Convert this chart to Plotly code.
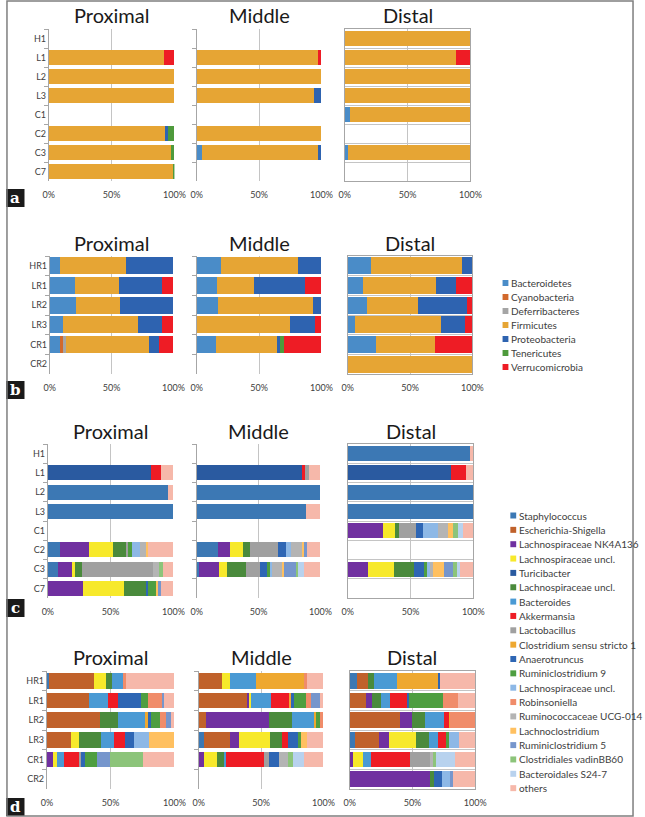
import plotly.graph_objects as go

W, H = 645, 817

# ---------------- categories ----------------
CAT_A = ["H1", "L1", "L2", "L3", "C1", "C2", "C3", "C7"]
CAT_B = ["HR1", "LR1", "LR2", "LR3", "CR1", "CR2"]
CAT_C = CAT_A
CAT_D = CAT_B

# ---------------- phylum series (panels a, b) ----------------
PHYLA_KEYS = ["Bacteroidetes", "Cyanobacteria", "Deferribacteres", "Firmicutes",
              "Proteobacteria", "Tenericutes", "Verrucomicrobia"]
PHYLA_NAMES = PHYLA_KEYS
PHYLA_COLORS = ["#4A8CC8", "#D2692C", "#A5A5A5", "#E6A534", "#2E63B0", "#4E9A3C", "#EE1C25"]

A_PROX = {
    "Firmicutes":      [0, 91.4, 100, 100, 0, 92.7, 97.4, 99],
    "Proteobacteria":  [0, 0, 0, 0, 0, 2.1, 0, 0],
    "Tenericutes":     [0, 0, 0, 0, 0, 5.2, 2.6, 1],
    "Verrucomicrobia": [0, 8.6, 0, 0, 0, 0, 0, 0],
}
A_MID = {
    "Bacteroidetes":   [0, 0, 0, 0, 0, 0, 4.2, 0],
    "Firmicutes":      [0, 97.5, 100, 94.3, 0, 100, 93.4, 0],
    "Proteobacteria":  [0, 0, 0, 5.7, 0, 0, 2.4, 0],
    "Verrucomicrobia": [0, 2.5, 0, 0, 0, 0, 0, 0],
}
A_DIST = {
    "Bacteroidetes":   [0, 0, 0, 0, 4.4, 0, 2.6, 0],
    "Firmicutes":      [100, 88.3, 100, 100, 95.6, 0, 97.4, 0],
    "Verrucomicrobia": [0, 11.7, 0, 0, 0, 0, 0, 0],
}
B_PROX = {
    "Bacteroidetes":   [8.6, 20, 21.5, 11, 8.6, 0],
    "Cyanobacteria":   [0, 0, 0, 0, 1.8, 0],
    "Deferribacteres": [0, 0, 0, 0, 2.6, 0],
    "Firmicutes":      [53.4, 36, 35.5, 60.4, 67, 0],
    "Proteobacteria":  [38, 35, 43, 19.6, 8, 0],
    "Verrucomicrobia": [0, 9, 0, 9, 12, 0],
}
B_MID = {
    "Bacteroidetes":   [19.5, 16, 17, 0, 15, 0],
    "Firmicutes":      [61.5, 30, 76, 75, 49, 0],
    "Proteobacteria":  [19, 40.5, 7, 20, 2.6, 0],
    "Tenericutes":     [0, 0, 0, 0, 3.4, 0],
    "Verrucomicrobia": [0, 13.5, 0, 5, 30, 0],
}
B_DIST = {
    "Bacteroidetes":   [19, 12, 15.6, 6, 22.6, 0],
    "Firmicutes":      [73, 59, 40.4, 69, 47.4, 100],
    "Proteobacteria":  [8, 16, 40, 19, 0, 0],
    "Verrucomicrobia": [0, 13, 4, 6, 30, 0],
}

# ---------------- genus series (panels c, d) ----------------
GENUS_KEYS = ["Staph", "EscSh", "NK", "LachY", "Turici", "LachG", "Bactd", "Akker", "Lacto",
              "CloSS1", "Anaero", "Rum9", "LachB", "Robin", "UCG", "Lachnoc", "Rum5", "vadin",
              "S24", "others"]
GENUS_NAMES = ["Staphylococcus", "Escherichia-Shigella", "Lachnospiraceae NK4A136",
               "Lachnospiraceae uncl.", "Turicibacter", "Lachnospiraceae uncl.", "Bacteroides",
               "Akkermansia", "Lactobacillus", "Clostridium sensu stricto 1", "Anaerotruncus",
               "Ruminiclostridium 9", "Lachnospiraceae uncl.", "Robinsoniella",
               "Ruminococcaceae UCG-014", "Lachnoclostridium", "Ruminiclostridium 5",
               "Clostridiales vadinBB60", "Bacteroidales S24-7", "others"]
GENUS_COLORS = ["#3C78B4", "#C0612B", "#7030A0", "#F7E92B", "#2A5AA0", "#4A8A3C", "#4A9AD4",
                "#EE1C25", "#A0A0A0", "#EEA830", "#2E66B4", "#4E9E40", "#8DB8E6", "#F08C6A",
                "#B4B4B4", "#FFC060", "#7696CC", "#8CC47A", "#B8D2EE", "#F6B8AA"]

C_PROX = {
    "Staph":   [0, 0, 95.6, 100, 0, 10, 8, 0],
    "NK":      [0, 0, 0, 0, 0, 23, 11, 27.6],
    "LachY":   [0, 0, 0, 0, 0, 19, 3, 33.4],
    "Turici":  [0, 82, 0, 0, 0, 0, 0, 0],
    "LachG":   [0, 0, 0, 0, 0, 10, 5, 17],
    "Akker":   [0, 8, 0, 0, 0, 0, 0, 0],
    "Lacto":   [0, 0, 0, 0, 0, 2, 57, 0],
    "Anaero":  [0, 0, 0, 0, 0, 0, 0, 1.6],
    "Rum9":    [0, 0, 0, 0, 0, 2.7, 0, 7],
    "LachB":   [0, 0, 0, 0, 0, 6.9, 0, 0],
    "UCG":     [0, 0, 0, 0, 0, 4.4, 4.6, 0],
    "Lachnoc": [0, 0, 0, 0, 0, 1.6, 0, 1.4],
    "Rum5":    [0, 0, 0, 0, 0, 0, 0, 2],
    "vadin":   [0, 0, 0, 0, 0, 0, 3.4, 0],
    "others":  [0, 10, 4.4, 0, 0, 20.4, 8, 10],
}
C_MID = {
    "Staph":   [0, 0, 100, 88, 0, 16.8, 2, 0],
    "NK":      [0, 0, 0, 0, 0, 10.2, 15.8, 0],
    "LachY":   [0, 0, 0, 0, 0, 10.4, 6.2, 0],
    "Turici":  [0, 85, 0, 0, 0, 0, 0, 0],
    "LachG":   [0, 0, 0, 0, 0, 5.6, 15.8, 0],
    "Akker":   [0, 2.4, 0, 0, 0, 0, 0, 0],
    "Lacto":   [0, 3.4, 0, 0, 0, 22.4, 11, 0],
    "Anaero":  [0, 0, 0, 0, 0, 6.6, 6.2, 0],
    "Rum9":    [0, 0, 0, 0, 0, 0, 2.4, 0],
    "LachB":   [0, 0, 0, 0, 0, 4, 1.6, 0],
    "UCG":     [0, 0, 0, 0, 0, 9.6, 7.6, 0],
    "Lachnoc": [0, 0, 0, 0, 0, 1.4, 1.8, 0],
    "Rum5":    [0, 0, 0, 0, 0, 2, 9.4, 0],
    "vadin":   [0, 0, 0, 0, 0, 0, 2.2, 0],
    "S24":     [0, 0, 0, 0, 0, 0, 4.4, 0],
    "others":  [0, 9.2, 0, 12, 0, 11, 13.6, 0],
}
C_DIST = {
    "Staph":   [97, 0, 100, 100, 0, 0, 0, 0],
    "NK":      [0, 0, 0, 0, 28.4, 0, 16, 0],
    "LachY":   [0, 0, 0, 0, 9.6, 0, 20.7, 0],
    "Turici":  [0, 82.4, 0, 0, 0, 0, 0, 0],
    "LachG":   [0, 0, 0, 0, 2.6, 0, 15.8, 0],
    "Akker":   [0, 11.6, 0, 0, 0, 0, 0, 0],
    "Lacto":   [0, 0, 0, 0, 13.4, 0, 0, 0],
    "Anaero":  [0, 0, 0, 0, 6, 0, 8, 0],
    "Rum9":    [0, 0, 0, 0, 0, 0, 2.5, 0],
    "LachB":   [0, 0, 0, 0, 12, 0, 2.6, 0],
    "UCG":     [0, 0, 0, 0, 8, 0, 2.4, 0],
    "Lachnoc": [0, 0, 0, 0, 4, 0, 8.7, 0],
    "Rum5":    [0, 0, 0, 0, 0, 0, 7.3, 0],
    "vadin":   [0, 0, 0, 0, 4, 0, 2.6, 0],
    "S24":     [0, 0, 0, 0, 4, 0, 2.4, 0],
    "others":  [3, 6, 0, 0, 8, 0, 11, 0],
}
D_PROX = {
    "Staph":   [2, 0, 0, 0, 0, 0],
    "EscSh":   [34.9, 33, 42, 19, 0, 0],
    "NK":      [0, 0, 0, 0, 5, 0],
    "LachY":   [9.7, 0, 0, 6.4, 2.6, 0],
    "LachG":   [4.3, 0, 13.5, 17.3, 0, 0],
    "Bactd":   [8.9, 15, 22.1, 10.3, 5.9, 0],
    "Akker":   [0, 8, 0, 8, 11.5, 0],
    "Lacto":   [0, 0, 0, 0, 1.7, 0],
    "CloSS1":  [0, 0, 1.4, 0, 0, 0],
    "Anaero":  [0, 18, 2.7, 7, 3.3, 0],
    "Rum9":    [0, 5.6, 6.8, 0, 9, 0],
    "LachB":   [0, 0, 0, 12.4, 0, 0],
    "Robin":   [2.5, 10.4, 4.5, 0, 0, 0],
    "Lachnoc": [0, 0, 0, 19.6, 0, 0],
    "Rum5":    [0, 2, 4.5, 0, 10.6, 0],
    "vadin":   [0, 0, 0, 0, 25.4, 0],
    "others":  [37.7, 8, 2.5, 0, 25, 0],
}
D_MID = {
    "Staph":   [0, 0, 0, 4.4, 0, 0],
    "EscSh":   [18.75, 38.8, 5.7, 20.3, 0, 0],
    "NK":      [0, 1.8, 50.8, 7.3, 4.4, 0],
    "LachY":   [6.55, 1.1, 0, 25, 10.4, 0],
    "LachG":   [0, 0, 18.5, 10, 5.2, 0],
    "Bactd":   [20.3, 16.1, 17.4, 0, 2, 0],
    "Akker":   [0, 14.2, 0, 4.6, 30.6, 0],
    "Lacto":   [0, 0, 0, 0, 3.9, 0],
    "CloSS1":  [39.4, 1.7, 1.9, 0, 0, 0],
    "Anaero":  [0, 2.9, 0, 7.8, 7.8, 0],
    "Rum9":    [0, 9.1, 3.1, 2.6, 0, 0],
    "Robin":   [1.5, 4.7, 2.6, 0, 0, 0],
    "UCG":     [0, 0, 0, 0, 7.3, 0],
    "Lachnoc": [0, 0, 0, 5, 0, 0],
    "Rum5":    [0, 7.2, 0, 0, 0, 0],
    "vadin":   [0, 0, 0, 0, 3.7, 0],
    "S24":     [0, 0, 0, 0, 9.3, 0],
    "others":  [13.5, 2.4, 0, 13, 15.4, 0],
}
D_DIST = {
    "Staph":   [5.7, 0, 0, 4.4, 0, 0],
    "EscSh":   [9, 12.9, 39.8, 18.6, 0, 0],
    "NK":      [0, 5.1, 9.6, 8.6, 2.6, 64.3],
    "LachY":   [0, 0, 0, 21.4, 8.2, 0],
    "LachG":   [4.6, 7, 10.6, 10.5, 0, 3.1],
    "Bactd":   [18.5, 7, 15, 6.9, 5.9, 0],
    "Akker":   [0, 13.5, 4.4, 5.9, 31.3, 0],
    "Lacto":   [0, 0, 0, 0, 16.3, 0],
    "CloSS1":  [32.2, 0, 0.8, 0, 0, 0],
    "Anaero":  [2, 1.8, 0, 0, 0, 6.4],
    "Rum9":    [0, 27.3, 0, 2.7, 0, 0],
    "LachB":   [0, 0, 0, 8, 0, 5.9],
    "Robin":   [0, 11.5, 19.8, 0, 0, 0],
    "UCG":     [0, 0, 0, 0, 2.3, 0],
    "Rum5":    [0, 0, 0, 0, 0, 2.6],
    "vadin":   [0, 0, 0, 0, 2.4, 0],
    "S24":     [0, 0, 0, 0, 14.5, 0],
    "others":  [28, 13.9, 0, 13, 16.5, 17.7],
}

X_TICKS = [0, 50, 100]
X_TICKTEXT = ["0%", "50%", "100%"]
COLUMN_TITLES = ["Proximal", "Middle", "Distal"]
PANEL_LETTERS = ["a", "b", "c", "d"]

# ---------------- layout geometry (pixels) ----------------
def fx(px):
    return px / W

def fy(py):
    return 1 - py / H

ROWS = [
    # data per column, categories, keys, names, colors, y-domain px, x-domains px, bar width, title y
    dict(data=[A_PROX, A_MID, A_DIST], cats=CAT_A, keys=PHYLA_KEYS, names=PHYLA_NAMES,
         colors=PHYLA_COLORS, y=(29, 181), xs=[(44, 173), (196, 324), (348, 477)], bw=0.8, ty=15,
         letter_box=(189, 207)),
    dict(data=[B_PROX, B_MID, B_DIST], cats=CAT_B, keys=PHYLA_KEYS, names=PHYLA_NAMES,
         colors=PHYLA_COLORS, y=(256, 374), xs=[(45, 172), (196, 324), (351, 479)], bw=0.86, ty=243,
         letter_box=(381, 399)),
    dict(data=[C_PROX, C_MID, C_DIST], cats=CAT_C, keys=GENUS_KEYS, names=GENUS_NAMES,
         colors=GENUS_COLORS, y=(444, 598), xs=[(43, 172), (196, 323), (351, 480)], bw=0.77, ty=431,
         letter_box=(599, 617)),
    dict(data=[D_PROX, D_MID, D_DIST], cats=CAT_D, keys=GENUS_KEYS, names=GENUS_NAMES,
         colors=GENUS_COLORS, y=(671, 789), xs=[(42, 173), (198, 326), (353, 482)], bw=0.8, ty=657,
         letter_box=(798, 816)),
]

fig = go.Figure()
layout = dict(width=W, height=H, margin=dict(l=0, r=0, t=0, b=0), paper_bgcolor="white",
              plot_bgcolor="white", barmode="stack", showlegend=False)
annotations = []
shapes = []

TICK_FONT = dict(family="Lato, 'DejaVu Sans', sans-serif", size=9, color="#404040")
AXIS_GRAY = "#A6A6A6"
GRID_GRAY = "#C4C4C4"

idx = 0
for r, row in enumerate(ROWS):
    for c in range(3):
        idx += 1
        xa = "x" if idx == 1 else f"x{idx}"
        ya = "y" if idx == 1 else f"y{idx}"
        data = row["data"][c]
        for key, name, color in zip(row["keys"], row["names"], row["colors"]):
            if key in data:
                fig.add_trace(go.Bar(
                    orientation="h", y=row["cats"], x=data[key], name=name,
                    marker=dict(color=color, line=dict(width=0)), width=row["bw"],
                    xaxis=xa, yaxis=ya, hovertemplate=name + ": %{x}%<extra></extra>"))
        x0, x1 = row["xs"][c]
        y0, y1 = row["y"]
        distal = (c == 2)
        layout["xaxis" if idx == 1 else f"xaxis{idx}"] = dict(
            domain=[fx(x0), fx(x1)], range=[0, 100], anchor=ya,
            tickmode="array", tickvals=X_TICKS, ticktext=X_TICKTEXT,
            ticks="outside", ticklen=5, tickcolor="rgba(0,0,0,0)",
            showgrid=True, gridcolor=GRID_GRAY, gridwidth=1, zeroline=False,
            showline=distal, mirror=distal, linecolor=AXIS_GRAY, tickfont=TICK_FONT,
            fixedrange=True)
        layout["yaxis" if idx == 1 else f"yaxis{idx}"] = dict(
            domain=[fy(y1), fy(y0)], anchor=xa, type="category",
            categoryorder="array", categoryarray=row["cats"], autorange="reversed",
            tickson="boundaries", ticks="" if distal else "outside", ticklen=4,
            tickcolor=AXIS_GRAY, showticklabels=(c == 0), tickfont=TICK_FONT,
            showline=True, mirror=distal, linecolor=AXIS_GRAY,
            showgrid=distal, gridcolor=GRID_GRAY, zeroline=False, fixedrange=True)
        annotations.append(dict(
            x=fx((x0 + x1) / 2), y=fy(row["ty"]), xref="paper", yref="paper",
            text=COLUMN_TITLES[c], showarrow=False, xanchor="center", yanchor="middle",
            font=dict(family="Lato, 'DejaVu Sans', sans-serif", size=20, color="#1A1A1A")))
    # panel letter box
    b0, b1 = row["letter_box"]
    shapes.append(dict(type="rect", xref="paper", yref="paper", x0=fx(0), x1=fx(19),
                       y0=fy(b1), y1=fy(b0), fillcolor="#1A1A1A", line=dict(width=0)))
    annotations.append(dict(x=fx(9.5), y=fy((b0 + b1) / 2), xref="paper", yref="paper",
                            text="<b>" + PANEL_LETTERS[r] + "</b>", showarrow=False,
                            xanchor="center", yanchor="middle",
                            font=dict(family="'DejaVu Serif', serif", size=15, color="white")))

# ---------------- custom legends ----------------
LEG_FONT = dict(family="Lato, 'DejaVu Sans', sans-serif", size=10, color="#404040")

def add_legend(names, colors, sq_x, text_x, y_start, step):
    for i, (nm, col) in enumerate(zip(names, colors)):
        yc = y_start + i * step
        shapes.append(dict(type="rect", xref="paper", yref="paper",
                           x0=fx(sq_x), x1=fx(sq_x + 6), y0=fy(yc + 3), y1=fy(yc - 3),
                           fillcolor=col, line=dict(width=0)))
        annotations.append(dict(x=fx(text_x), y=fy(yc), xref="paper", yref="paper",
                                text=nm, showarrow=False, xanchor="left", yanchor="middle",
                                font=LEG_FONT))

add_legend(PHYLA_NAMES, PHYLA_COLORS, 510, 517, 283, 14)
add_legend(GENUS_NAMES, GENUS_COLORS, 518, 525, 515.5, 14.35)

# outer frame
shapes.append(dict(type="rect", xref="paper", yref="paper", x0=fx(1), x1=fx(644),
                   y0=fy(816), y1=fy(1), line=dict(color="#7F7F7F", width=1.5)))

layout["annotations"] = annotations
layout["shapes"] = shapes
fig.update_layout(**layout)

fig.write_html("out.html", config={"displayModeBar": False},
               post_script="document.body.style.margin='0';")
